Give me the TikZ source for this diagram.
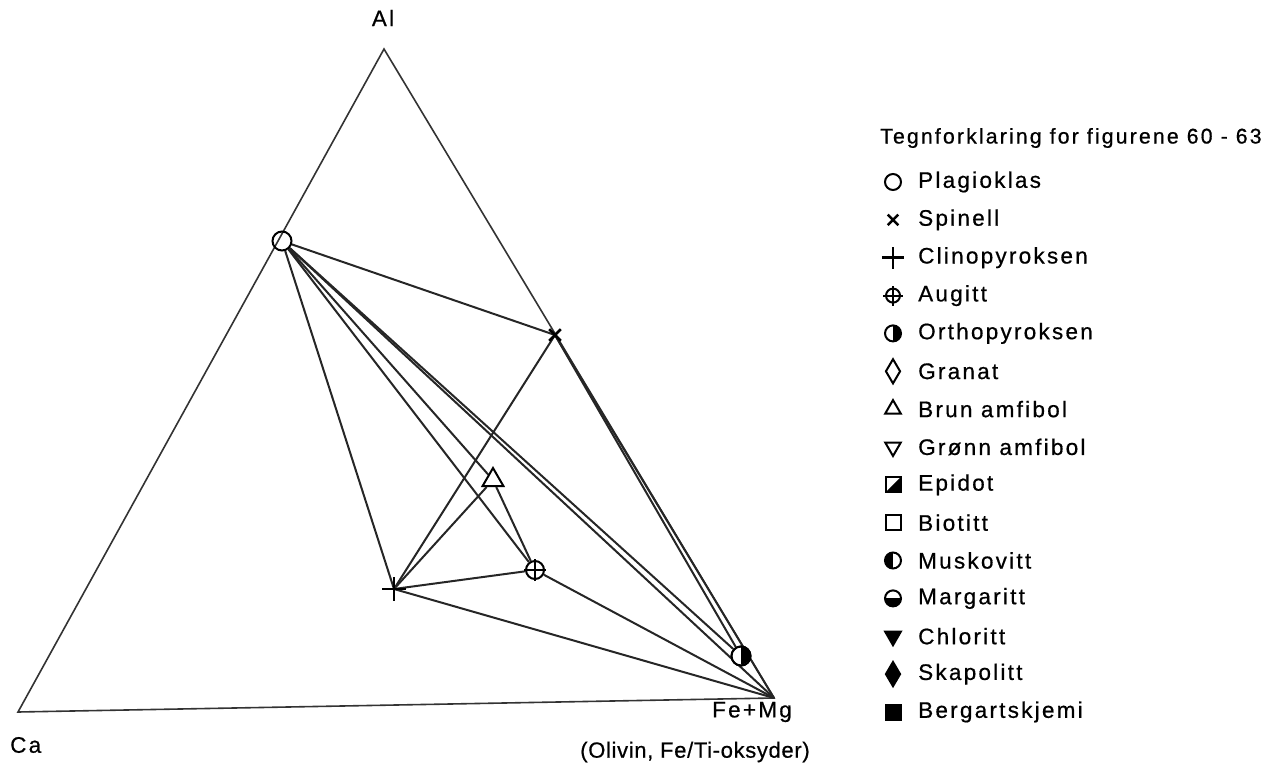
\documentclass[tikz,border=0pt]{standalone}
\usepackage{fontspec}
\setmainfont{Liberation Sans}[LetterSpace=10, FakeBold=0.6]
\newfontfamily\tightfont{Liberation Sans}[LetterSpace=3, FakeBold=0.6]
\usetikzlibrary{shapes.geometric,shapes.misc}
\begin{document}
\begin{tikzpicture}[x=1pt,y=-1pt,
  edge/.style={line width=2pt, black!85},
  tri/.style={line width=1.6pt, black!80},
  lbl/.style={font=\fontsize{22.5}{26}\selectfont, inner sep=0pt},
  circ/.style={circle, draw, line width=2pt, inner sep=0pt, minimum size=#1},
  dia/.style={diamond, draw, line width=2pt, inner sep=0pt, minimum width=15pt, minimum height=25pt, aspect=0.6},
  trup/.style={regular polygon, regular polygon sides=3, draw, line width=2pt, inner sep=0pt, minimum size=#1},
  trdn/.style={regular polygon, regular polygon sides=3, shape border rotate=180, draw, line width=2pt, inner sep=0pt, minimum size=#1},
  sq/.style={rectangle, draw, line width=2pt, inner sep=0pt, minimum size=15pt},
  xmark/.style={cross out, draw, line width=2.6pt, inner sep=0pt, minimum size=#1},
  pmark/.style={cross out, rotate=45, draw, line width=2.6pt, inner sep=0pt, minimum size=#1},
]
\useasboundingbox (0,0) rectangle (1278,784);

% vertices
\coordinate (A) at (384,49);
\coordinate (C) at (18,712);
\coordinate (F) at (774,698);
\draw[tri] (A) -- (C) -- (F) -- cycle;

% phase points
\node[circ=19pt] (P) at (282,241) {};
\coordinate (S) at (555,335);
\coordinate (X) at (394,589);
\node[circ=18pt] (G) at (535,570) {};
\node[trup=24pt] (B) at (493,480) {};
\node[circ=19pt] (O) at (741,656) {};

% tie lines
\draw[edge] (P) -- (S);
\draw[edge] (P) -- (X);
\draw[edge] (P) -- (G);
\draw[edge] (P) -- (B);
\draw[edge] (P) -- (O);
\draw[edge] (P) -- (F);
\draw[edge] (S) -- (X);
\draw[edge] (S) -- (O);
\draw[edge] (S) -- (F);
\draw[edge] (X) -- (B);
\draw[edge] (X) -- (G);
\draw[edge] (X) -- (F);
\draw[edge] (B) -- (G);
\draw[edge] (G) -- (F);

% markers on top
\node[xmark=9pt] (Sm) at (S) {};
\node[pmark=14pt] (Xm) at (X) {};
\draw[line width=2pt] ([xshift=-11pt]G.center) -- ([xshift=11pt]G.center)
  ([yshift=-11pt]G.center) -- ([yshift=11pt]G.center);
\fill[white] (O.center) circle[radius=8.5pt];
\fill[black] (O.north) arc[start angle=90, end angle=-90, radius=9.5pt] -- cycle;
\draw[line width=2pt] (O.center) circle[radius=9.5pt];

% vertex labels
\node[lbl] (lAl) at (383,18) {Al};
\node[lbl, anchor=west] (lCa) at (10,745) {Ca};
\node[lbl, anchor=east] (lFe) at (792,712) {Fe+Mg};
\node[lbl, font=\tightfont\fontsize{22}{26}\selectfont] (lOl) at (695,752) {(Olivin, Fe/Ti-oksyder)};

% legend
\node[lbl, font=\fontsize{21.3}{25}\selectfont, anchor=west] (title) at (880,138) {Tegnforklaring for figurene 60 - 63};
\def\lx{893}
\def\tx{918}
\node[circ=16pt] (s1) at (\lx,182) {};
\node[lbl, anchor=west] (t1) at (\tx,182) {Plagioklas};
\node[xmark=8pt] (s2) at (\lx,219.9) {};
\node[lbl, anchor=west] (t2) at (\tx,219.9) {Spinell};
\node[pmark=13pt] (s3) at (\lx,257.7) {};
\node[lbl, anchor=west] (t3) at (\tx,257.7) {Clinopyroksen};
\node[circ=14pt] (s4) at (\lx,295.6) {};
\draw[line width=2pt] ([xshift=-10pt]s4.center) -- ([xshift=10pt]s4.center) ([yshift=-10pt]s4.center) -- ([yshift=10pt]s4.center);
\node[lbl, anchor=west] (t4) at (\tx,295.6) {Augitt};
\node[circ=16pt, path picture={\fill (path picture bounding box.north) rectangle (path picture bounding box.south east);}] (s5) at (\lx,333.4) {};
\node[lbl, anchor=west] (t5) at (\tx,333.4) {Orthopyroksen};
\node[dia] (s6) at (\lx,371.3) {};
\node[lbl, anchor=west] (t6) at (\tx,371.3) {Granat};
\node[trup=18pt] (s7) at (\lx,409.1) {};
\node[lbl, anchor=west] (t7) at (\tx,409.1) {Brun amfibol};
\node[trdn=18pt] (s8) at (\lx,447) {};
\node[lbl, anchor=west] (t8) at (\tx,447) {Grønn amfibol};
\node[sq, path picture={\fill (path picture bounding box.north east) -- (path picture bounding box.south east) -- (path picture bounding box.south west) -- cycle;}] (s9) at (\lx,484.8) {};
\node[lbl, anchor=west] (t9) at (\tx,484.8) {Epidot};
\node[sq] (s10) at (\lx,522.7) {};
\node[lbl, anchor=west] (t10) at (\tx,522.7) {Biotitt};
\node[circ=16pt, path picture={\fill (path picture bounding box.north west) rectangle (path picture bounding box.south);}] (s11) at (\lx,560.5) {};
\node[lbl, anchor=west] (t11) at (\tx,560.5) {Muskovitt};
\node[circ=16pt, path picture={\fill (path picture bounding box.west) rectangle (path picture bounding box.south east);}] (s12) at (\lx,598.4) {};
\node[lbl, anchor=west] (t12) at (\tx,598.4) {Margaritt};
\node[trdn=18pt, fill=black] (s13) at (\lx,636.2) {};
\node[lbl, anchor=west] (t13) at (\tx,636.2) {Chloritt};
\node[dia, fill=black] (s14) at (\lx,674.1) {};
\node[lbl, anchor=west] (t14) at (\tx,674.1) {Skapolitt};
\node[sq, fill=black] (s15) at (\lx,712) {};
\node[lbl, anchor=west] (t15) at (\tx,712) {Bergartskjemi};
\end{tikzpicture}
\end{document}
